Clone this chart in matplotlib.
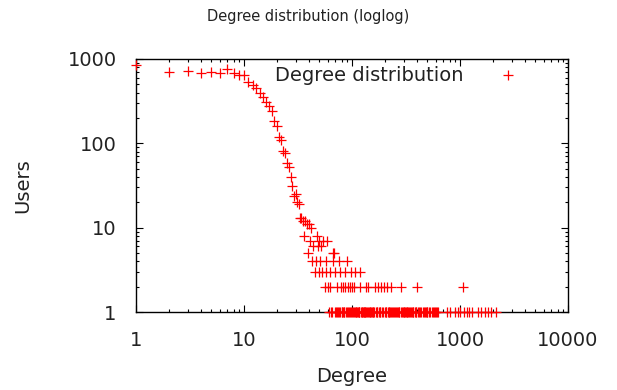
import matplotlib
matplotlib.use("Agg")
import matplotlib.pyplot as plt

# degree -> number of users
degree = [1, 2, 3, 4, 5, 6, 7, 8, 9, 10,
          11, 12, 13, 14, 15, 16, 17, 18, 19, 20,
          21, 22, 23, 24, 25, 26, 27, 28, 29, 30,
          31, 32, 33, 34, 35, 36, 37, 38, 39, 40,
          41, 42, 43, 44, 45, 46, 47, 48, 49, 50,
          51, 52, 53, 54, 56, 57, 58, 59, 60, 61,
          62, 63, 65, 66, 67, 68, 69, 70, 72, 74,
          75, 77, 78, 79, 80, 82, 83, 86, 87, 89,
          90, 91, 95, 96, 97, 100, 101, 104, 105, 107,
          110, 113, 116, 118, 119, 121, 125, 128, 130, 133,
          135, 136, 141, 142, 146, 150, 155, 160, 163, 166,
          170, 175, 180, 185, 190, 198, 200, 205, 208, 212,
          215, 220, 225, 228, 235, 240, 245, 255, 265, 275,
          282, 290, 300, 310, 320, 330, 345, 360, 370, 380,
          395, 402, 410, 420, 440, 460, 480, 500, 520, 550,
          565, 580, 610, 631, 753, 810, 900, 950, 1000, 1059,
          1090, 1150, 1200, 1288, 1469, 1575, 1690, 1810, 1950, 2140,
          64, 71, 73, 76, 81, 84, 85, 88, 92, 93,
          98, 102, 106, 108, 111, 115, 117, 123, 126, 131,
          138, 144, 148, 152, 158, 172, 178, 183, 195, 218,
          232, 250, 260, 270, 285, 295, 305, 315, 325, 338,
          352, 365, 388, 430, 450, 470, 490, 530, 590, 600]
users = [850, 708, 720, 688, 708, 688, 760, 688, 646, 646,
         538, 492, 457, 400, 357, 311, 280, 241, 184, 160,
         120, 110, 82, 76, 58, 53, 40, 31, 24, 25,
         20, 19, 13, 13, 12, 8, 12, 11, 5, 11,
         7, 10, 4, 6, 3, 4, 8, 6, 7, 3,
         4, 6, 3, 7, 2, 4, 3, 7, 2, 1,
         2, 3, 1, 4, 5, 5, 1, 3, 2, 1,
         4, 1, 3, 2, 1, 2, 1, 2, 3, 4,
         1, 2, 1, 2, 3, 2, 1, 1, 2, 3,
         1, 1, 1, 3, 2, 1, 1, 1, 1, 1,
         2, 1, 2, 1, 1, 1, 1, 1, 2, 1,
         1, 2, 1, 2, 1, 2, 1, 1, 1, 2,
         1, 1, 1, 2, 1, 1, 1, 1, 1, 1,
         2, 1, 1, 1, 1, 1, 1, 1, 1, 1,
         1, 2, 1, 1, 1, 1, 1, 1, 1, 1,
         1, 1, 1, 1, 1, 1, 1, 1, 1, 2,
         1, 1, 1, 1, 1, 1, 1, 1, 1, 1,
         1, 1, 1, 1, 1, 1, 1, 1, 1, 1,
         1, 1, 1, 1, 1, 1, 1, 1, 1, 1,
         1, 1, 1, 1, 1, 1, 1, 1, 1, 1,
         1, 1, 1, 1, 1, 1, 1, 1, 1, 1,
         1, 1, 1, 1, 1, 1, 1, 1, 1, 1]

xticks = [1, 10, 100, 1000, 10000]
yticks = [1, 10, 100, 1000]

plt.rcParams['font.family'] = ['DejaVu Sans']
txt = '#222222'

fig = plt.figure(figsize=(6.17, 3.90), dpi=100)
ax = fig.add_axes([136 / 617, 1 - 312 / 390, (568 - 136) / 617, (312 - 59) / 390])

ax.plot(degree, users, linestyle='none', marker='+', color='red',
        markersize=7.5, markeredgewidth=0.9, label='Degree distribution',
        clip_on=False, zorder=3)

ax.set_xscale('log')
ax.set_yscale('log')
ax.set_xlim(1, 10000)
ax.set_ylim(1, 1000)
ax.set_xticks(xticks)
ax.set_xticklabels([str(t) for t in xticks])
ax.set_yticks(yticks)
ax.set_yticklabels([str(t) for t in yticks])

ax.tick_params(which='both', direction='in', top=True, right=True,
               labelsize=14, labelcolor=txt, width=0.8)
ax.tick_params(which='major', length=5, pad=14)
ax.tick_params(which='minor', length=2.5)
for s in ax.spines.values():
    s.set_linewidth(1.0)
    s.set_color('black')

ax.set_xlabel('Degree', fontsize=14, color=txt, labelpad=12)
ax.set_ylabel('Users', fontsize=14, color=txt, labelpad=25)
fig.text(0.5, 1 - 17 / 390, 'Degree distribution (loglog)', ha='center',
         va='center', fontsize=10.5, color=txt)

ax.legend(loc='upper right', bbox_to_anchor=(0.946, 1.04), frameon=False,
          markerfirst=False, fontsize=14, handlelength=2.0,
          handletextpad=1.3, labelcolor=txt)

fig.savefig('out.png', dpi=100)
